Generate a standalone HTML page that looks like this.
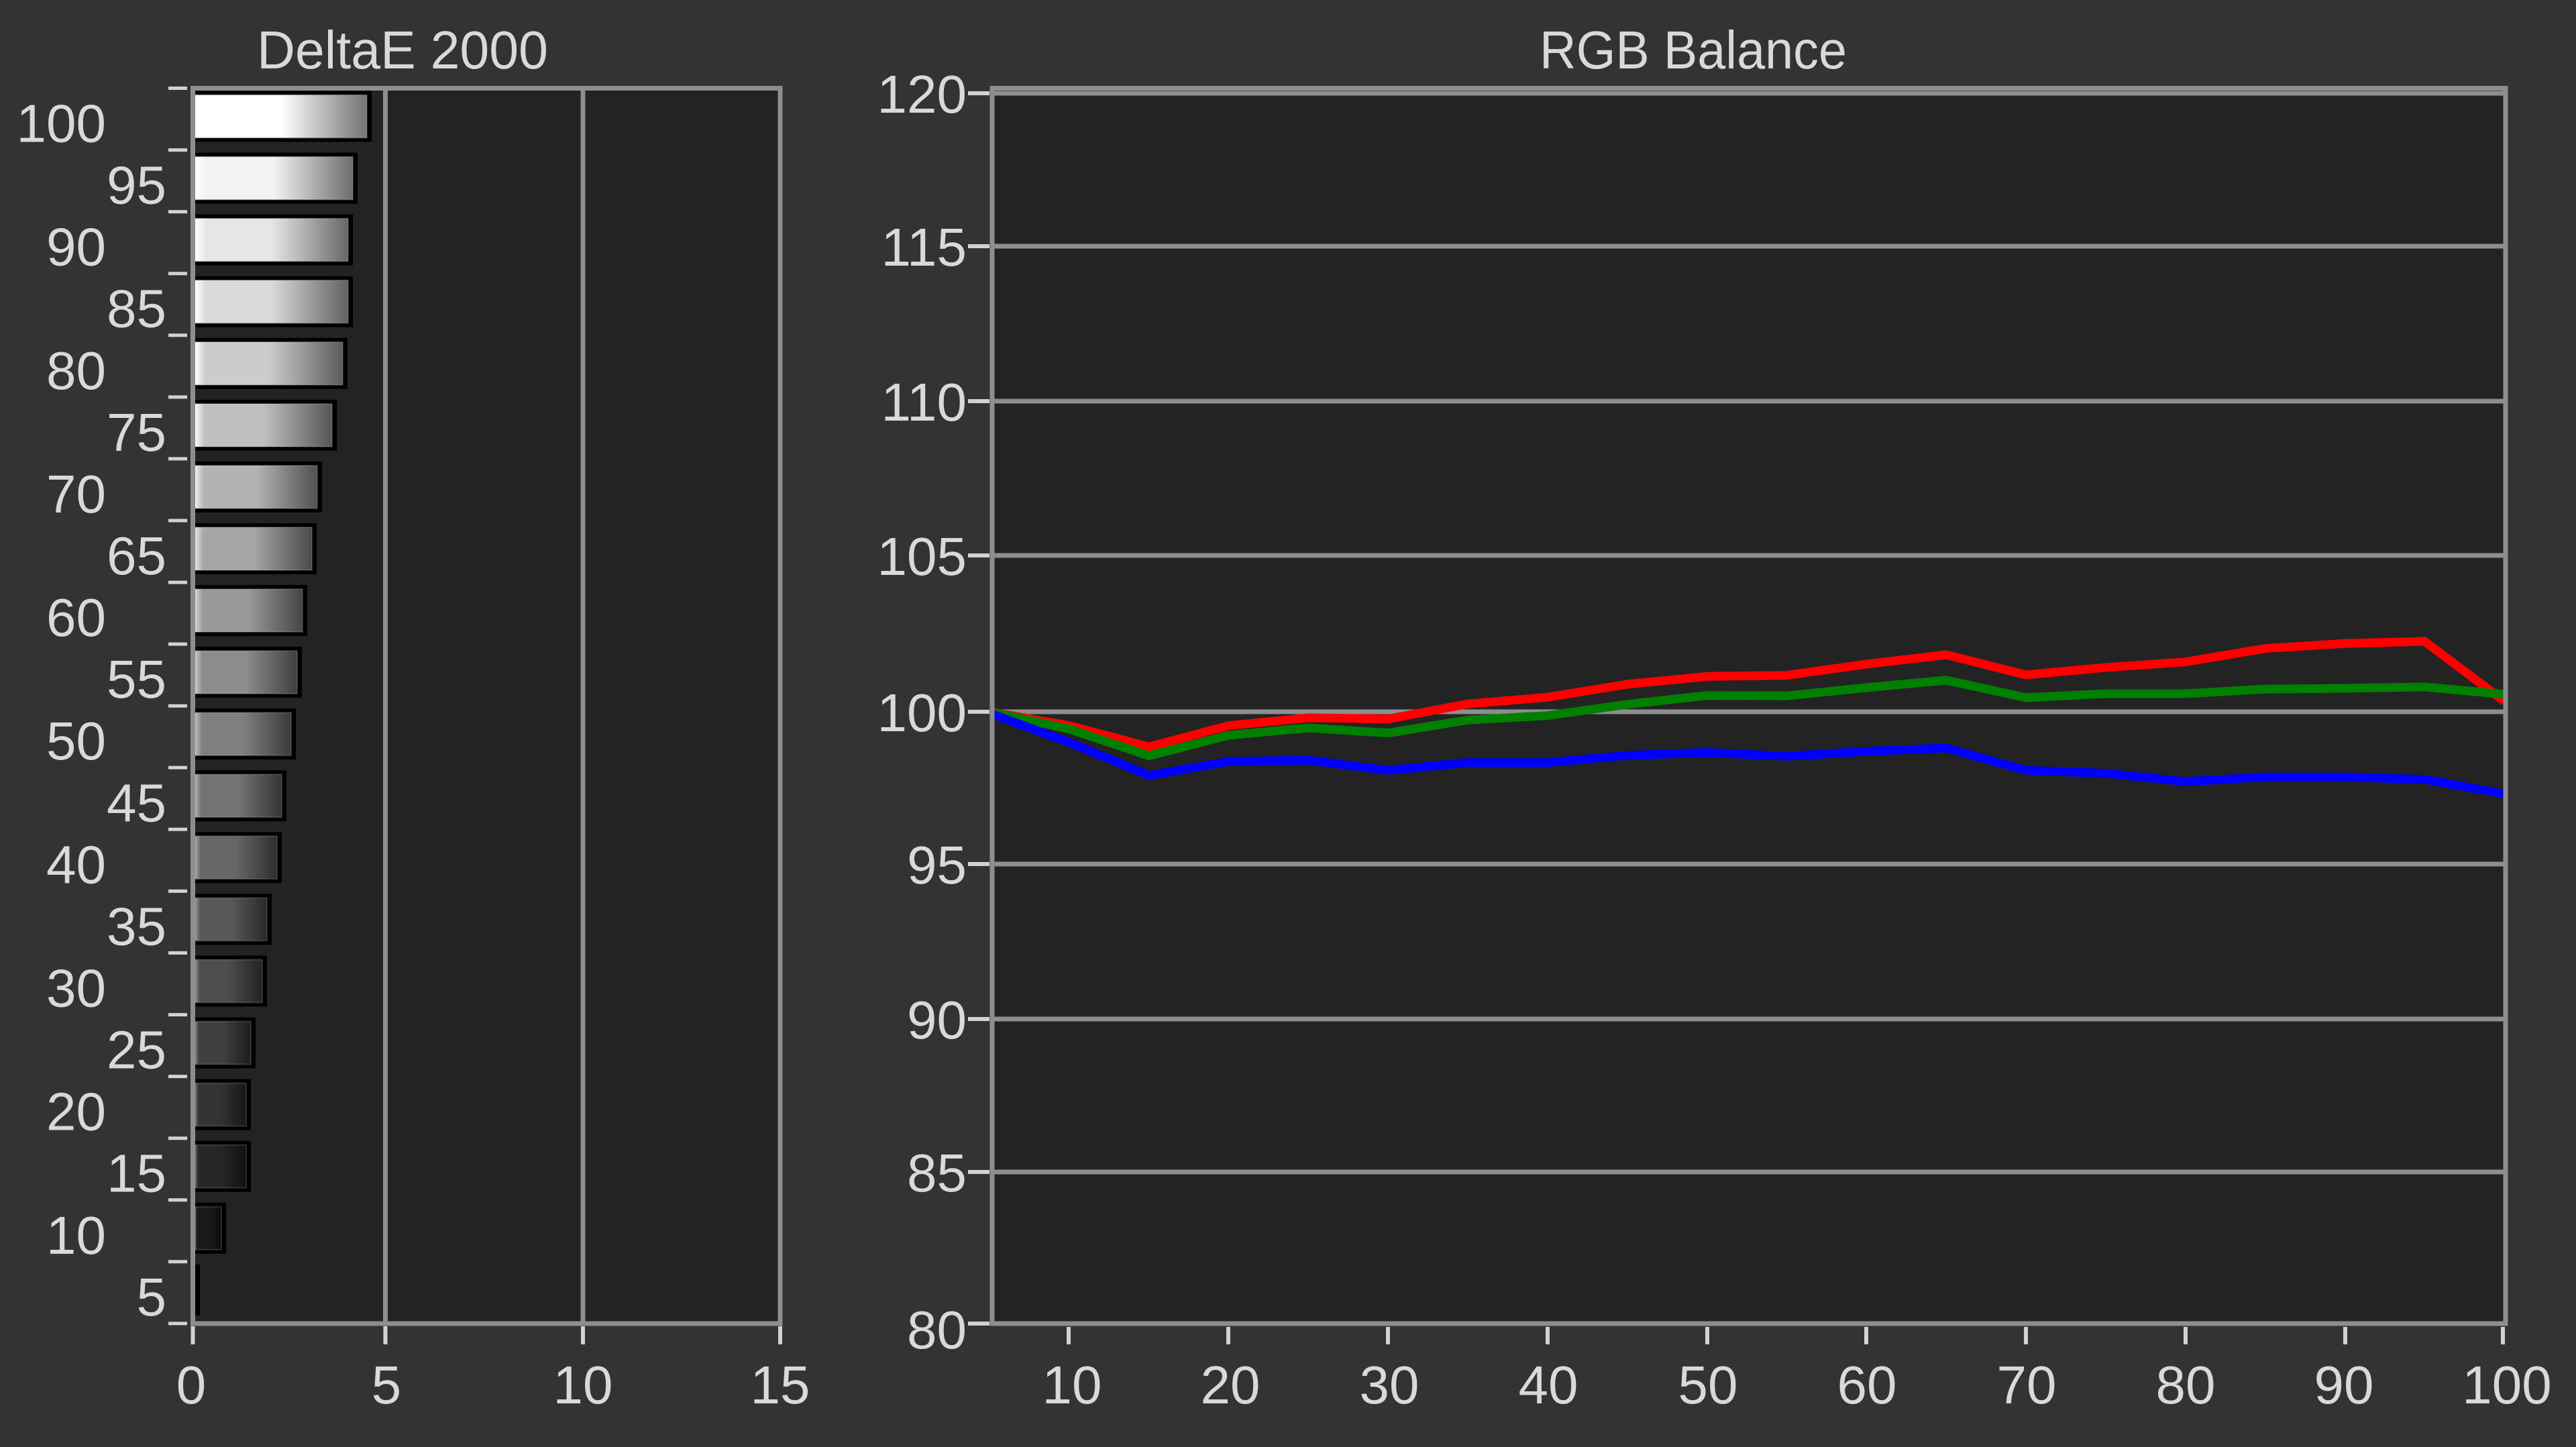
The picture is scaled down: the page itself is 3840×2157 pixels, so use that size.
<!DOCTYPE html>
<html>
<head>
<meta charset="utf-8">
<style>
html,body{margin:0;padding:0;background:#333333;}
svg{display:block;}
text{font-family:"Liberation Sans",sans-serif;font-size:80px;fill:#d9d9d9;}
</style>
</head>
<body>
<svg width="3840" height="2157" viewBox="0 0 3840 2157" xmlns="http://www.w3.org/2000/svg">
<defs>
<linearGradient id="g0"><stop offset="0" stop-color="#ffffff"/><stop offset="0.5" stop-color="#ffffff"/><stop offset="1" stop-color="#737373"/></linearGradient>
<linearGradient id="g1"><stop offset="0" stop-color="#ffffff"/><stop offset="0.07" stop-color="#f2f2f2"/><stop offset="0.5" stop-color="#f2f2f2"/><stop offset="1" stop-color="#6d6d6d"/></linearGradient>
<linearGradient id="g2"><stop offset="0" stop-color="#ffffff"/><stop offset="0.07" stop-color="#e6e6e6"/><stop offset="0.5" stop-color="#e6e6e6"/><stop offset="1" stop-color="#686868"/></linearGradient>
<linearGradient id="g3"><stop offset="0" stop-color="#ffffff"/><stop offset="0.07" stop-color="#d9d9d9"/><stop offset="0.5" stop-color="#d9d9d9"/><stop offset="1" stop-color="#626262"/></linearGradient>
<linearGradient id="g4"><stop offset="0" stop-color="#ffffff"/><stop offset="0.07" stop-color="#cccccc"/><stop offset="0.5" stop-color="#cccccc"/><stop offset="1" stop-color="#5c5c5c"/></linearGradient>
<linearGradient id="g5"><stop offset="0" stop-color="#fbfbfb"/><stop offset="0.07" stop-color="#bfbfbf"/><stop offset="0.5" stop-color="#bfbfbf"/><stop offset="1" stop-color="#565656"/></linearGradient>
<linearGradient id="g6"><stop offset="0" stop-color="#efefef"/><stop offset="0.07" stop-color="#b3b3b3"/><stop offset="0.5" stop-color="#b3b3b3"/><stop offset="1" stop-color="#515151"/></linearGradient>
<linearGradient id="g7"><stop offset="0" stop-color="#e2e2e2"/><stop offset="0.07" stop-color="#a6a6a6"/><stop offset="0.5" stop-color="#a6a6a6"/><stop offset="1" stop-color="#4b4b4b"/></linearGradient>
<linearGradient id="g8"><stop offset="0" stop-color="#d5d5d5"/><stop offset="0.07" stop-color="#999999"/><stop offset="0.5" stop-color="#999999"/><stop offset="1" stop-color="#454545"/></linearGradient>
<linearGradient id="g9"><stop offset="0" stop-color="#c8c8c8"/><stop offset="0.07" stop-color="#8c8c8c"/><stop offset="0.5" stop-color="#8c8c8c"/><stop offset="1" stop-color="#3f3f3f"/></linearGradient>
<linearGradient id="g10"><stop offset="0" stop-color="#bcbcbc"/><stop offset="0.07" stop-color="#808080"/><stop offset="0.5" stop-color="#808080"/><stop offset="1" stop-color="#3a3a3a"/></linearGradient>
<linearGradient id="g11"><stop offset="0" stop-color="#afafaf"/><stop offset="0.07" stop-color="#737373"/><stop offset="0.5" stop-color="#737373"/><stop offset="1" stop-color="#343434"/></linearGradient>
<linearGradient id="g12"><stop offset="0" stop-color="#a2a2a2"/><stop offset="0.07" stop-color="#666666"/><stop offset="0.5" stop-color="#666666"/><stop offset="1" stop-color="#2e2e2e"/></linearGradient>
<linearGradient id="g13"><stop offset="0" stop-color="#959595"/><stop offset="0.07" stop-color="#595959"/><stop offset="0.5" stop-color="#595959"/><stop offset="1" stop-color="#282828"/></linearGradient>
<linearGradient id="g14"><stop offset="0" stop-color="#898989"/><stop offset="0.07" stop-color="#4d4d4d"/><stop offset="0.5" stop-color="#4d4d4d"/><stop offset="1" stop-color="#232323"/></linearGradient>
<linearGradient id="g15"><stop offset="0" stop-color="#7c7c7c"/><stop offset="0.07" stop-color="#404040"/><stop offset="0.5" stop-color="#404040"/><stop offset="1" stop-color="#1d1d1d"/></linearGradient>
<linearGradient id="g16"><stop offset="0" stop-color="#6f6f6f"/><stop offset="0.07" stop-color="#333333"/><stop offset="0.5" stop-color="#333333"/><stop offset="1" stop-color="#171717"/></linearGradient>
<linearGradient id="g17"><stop offset="0" stop-color="#626262"/><stop offset="0.07" stop-color="#262626"/><stop offset="0.5" stop-color="#262626"/><stop offset="1" stop-color="#111111"/></linearGradient>
<linearGradient id="g18"><stop offset="0" stop-color="#565656"/><stop offset="0.07" stop-color="#1a1a1a"/><stop offset="0.5" stop-color="#1a1a1a"/><stop offset="1" stop-color="#0c0c0c"/></linearGradient>
<clipPath id="rclip"><rect x="1482" y="135" width="2249.5" height="1834.5"/></clipPath>
</defs>

<!-- background -->
<rect x="0" y="0" width="3840" height="2157" fill="#333333"/>

<!-- Titles -->
<text x="600" y="102" text-anchor="middle" textLength="434" lengthAdjust="spacingAndGlyphs">DeltaE 2000</text>
<text x="2524" y="102" text-anchor="middle" textLength="458" lengthAdjust="spacingAndGlyphs">RGB Balance</text>

<!-- ===== LEFT CHART ===== -->
<rect x="287.5" y="131.5" width="875.5" height="1841.5" fill="#232323"/>
<g stroke="#8e8e8e" stroke-width="7">
<line x1="574.5" y1="131.5" x2="574.5" y2="1973"/>
<line x1="869" y1="131.5" x2="869" y2="1973"/>
</g>

<!-- bars: black outlines -->
<g fill="#000000">
<rect x="288" y="135.5" width="266" height="76"/>
<rect x="288" y="227.6" width="245" height="76"/>
<rect x="288" y="319.6" width="238" height="76"/>
<rect x="288" y="411.7" width="238" height="76"/>
<rect x="288" y="503.8" width="230" height="76"/>
<rect x="288" y="595.9" width="214" height="76"/>
<rect x="288" y="687.9" width="192" height="76"/>
<rect x="288" y="780" width="184" height="76"/>
<rect x="288" y="872.1" width="170" height="76"/>
<rect x="288" y="964.1" width="162" height="76"/>
<rect x="288" y="1056.2" width="153" height="76"/>
<rect x="288" y="1148.3" width="139" height="76"/>
<rect x="288" y="1240.3" width="132" height="76"/>
<rect x="288" y="1332.4" width="117" height="76"/>
<rect x="288" y="1424.5" width="110" height="76"/>
<rect x="288" y="1516.6" width="93" height="76"/>
<rect x="288" y="1608.6" width="86" height="76"/>
<rect x="288" y="1700.7" width="86" height="76"/>
<rect x="288" y="1792.8" width="49" height="76"/>
<rect x="288" y="1884.8" width="10" height="76"/>
</g>
<!-- bars: fills -->
<g stroke="rgba(255,255,255,0.15)" stroke-width="2">
<rect x="291" y="141.5" width="256" height="64" fill="url(#g0)"/>
<rect x="291" y="233.6" width="235" height="64" fill="url(#g1)"/>
<rect x="291" y="325.6" width="228" height="64" fill="url(#g2)"/>
<rect x="291" y="417.7" width="228" height="64" fill="url(#g3)"/>
<rect x="291" y="509.8" width="220" height="64" fill="url(#g4)"/>
<rect x="291" y="601.9" width="204" height="64" fill="url(#g5)"/>
<rect x="291" y="693.9" width="182" height="64" fill="url(#g6)"/>
<rect x="291" y="786" width="174" height="64" fill="url(#g7)"/>
<rect x="291" y="878.1" width="160" height="64" fill="url(#g8)"/>
<rect x="291" y="970.1" width="152" height="64" fill="url(#g9)"/>
<rect x="291" y="1062.2" width="143" height="64" fill="url(#g10)"/>
<rect x="291" y="1154.3" width="129" height="64" fill="url(#g11)"/>
<rect x="291" y="1246.3" width="122" height="64" fill="url(#g12)"/>
<rect x="291" y="1338.4" width="107" height="64" fill="url(#g13)"/>
<rect x="291" y="1430.5" width="100" height="64" fill="url(#g14)"/>
<rect x="291" y="1522.6" width="83" height="64" fill="url(#g15)"/>
<rect x="291" y="1614.6" width="76" height="64" fill="url(#g16)"/>
<rect x="291" y="1706.7" width="76" height="64" fill="url(#g17)"/>
<rect x="291" y="1798.8" width="39" height="64" fill="url(#g18)"/>
</g>

<!-- left border -->
<rect x="287.5" y="131.5" width="875.5" height="1841.5" fill="none" stroke="#8e8e8e" stroke-width="7"/>

<!-- left y ticks -->
<g stroke="#d2d2d2" stroke-width="5">
<line x1="251" y1="131.5" x2="279" y2="131.5"/>
<line x1="251" y1="223.6" x2="279" y2="223.6"/>
<line x1="251" y1="315.6" x2="279" y2="315.6"/>
<line x1="251" y1="407.7" x2="279" y2="407.7"/>
<line x1="251" y1="499.8" x2="279" y2="499.8"/>
<line x1="251" y1="591.9" x2="279" y2="591.9"/>
<line x1="251" y1="683.9" x2="279" y2="683.9"/>
<line x1="251" y1="776" x2="279" y2="776"/>
<line x1="251" y1="868.1" x2="279" y2="868.1"/>
<line x1="251" y1="960.1" x2="279" y2="960.1"/>
<line x1="251" y1="1052.2" x2="279" y2="1052.2"/>
<line x1="251" y1="1144.3" x2="279" y2="1144.3"/>
<line x1="251" y1="1236.3" x2="279" y2="1236.3"/>
<line x1="251" y1="1328.4" x2="279" y2="1328.4"/>
<line x1="251" y1="1420.5" x2="279" y2="1420.5"/>
<line x1="251" y1="1512.6" x2="279" y2="1512.6"/>
<line x1="251" y1="1604.6" x2="279" y2="1604.6"/>
<line x1="251" y1="1696.7" x2="279" y2="1696.7"/>
<line x1="251" y1="1788.8" x2="279" y2="1788.8"/>
<line x1="251" y1="1880.8" x2="279" y2="1880.8"/>
<line x1="251" y1="1972.9" x2="279" y2="1972.9"/>
</g>
<!-- left x ticks -->
<g stroke="#d2d2d2" stroke-width="6">
<line x1="287.5" y1="1977" x2="287.5" y2="2004"/>
<line x1="574.5" y1="1977" x2="574.5" y2="2004"/>
<line x1="869" y1="1977" x2="869" y2="2004"/>
<line x1="1163" y1="1977" x2="1163" y2="2004"/>
</g>

<!-- left y labels -->
<g text-anchor="end">
<text x="158" y="211.5">100</text>
<text x="248" y="303.6">95</text>
<text x="158" y="395.6">90</text>
<text x="248" y="487.7">85</text>
<text x="158" y="579.8">80</text>
<text x="248" y="671.9">75</text>
<text x="158" y="763.9">70</text>
<text x="248" y="856">65</text>
<text x="158" y="948.1">60</text>
<text x="248" y="1040.1">55</text>
<text x="158" y="1132.2">50</text>
<text x="248" y="1224.3">45</text>
<text x="158" y="1316.3">40</text>
<text x="248" y="1408.4">35</text>
<text x="158" y="1500.5">30</text>
<text x="248" y="1592.6">25</text>
<text x="158" y="1684.6">20</text>
<text x="248" y="1776.7">15</text>
<text x="158" y="1868.8">10</text>
<text x="248" y="1960.8">5</text>
</g>
<!-- left x labels -->
<g text-anchor="middle">
<text x="285" y="2092">0</text>
<text x="576" y="2092">5</text>
<text x="869" y="2092">10</text>
<text x="1163" y="2092">15</text>
</g>

<!-- ===== RIGHT CHART ===== -->
<rect x="1479" y="131.5" width="2256" height="1841.5" fill="#232323"/>
<g stroke="#8e8e8e" stroke-width="7">
<line x1="1479" y1="139" x2="3735" y2="139"/>
<line x1="1479" y1="367" x2="3735" y2="367"/>
<line x1="1479" y1="598" x2="3735" y2="598"/>
<line x1="1479" y1="828" x2="3735" y2="828"/>
<line x1="1479" y1="1061" x2="3735" y2="1061"/>
<line x1="1479" y1="1288" x2="3735" y2="1288"/>
<line x1="1479" y1="1519" x2="3735" y2="1519"/>
<line x1="1479" y1="1747" x2="3735" y2="1747"/>
</g>

<g clip-path="url(#rclip)" fill="none" stroke-width="13" stroke-linejoin="miter" stroke-miterlimit="10">
<polyline stroke="#ff0000" points="1475,1061 1593.9,1081.7 1712.7,1113.3 1831.6,1081.7 1950.4,1070 2069.3,1071.7 2188.1,1049.3 2307,1039.3 2425.8,1020 2544.7,1008.3 2663.5,1006.7 2782.4,990 2901.2,976 3020.1,1006 3138.9,995 3257.8,986.7 3376.6,966.7 3495.5,959.3 3614.3,956 3733.2,1045.3"/>
<polyline stroke="#008000" points="1475,1061 1593.9,1086.7 1712.7,1126.7 1831.6,1096 1950.4,1085 2069.3,1092.7 2188.1,1073.3 2307,1066.7 2425.8,1050 2544.7,1036.7 2663.5,1037.3 2782.4,1025 2901.2,1014 3020.1,1040 3138.9,1034 3257.8,1034 3376.6,1027.3 3495.5,1026 3614.3,1024 3733.2,1035"/>
<polyline stroke="#0000ff" points="1475,1063 1593.9,1106.7 1712.7,1156 1831.6,1135 1950.4,1133.3 2069.3,1148.3 2188.1,1136.7 2307,1136.7 2425.8,1126 2544.7,1121.7 2663.5,1127.3 2782.4,1120 2901.2,1115 3020.1,1148.3 3138.9,1152.7 3257.8,1165 3376.6,1158.3 3495.5,1158.3 3614.3,1161.7 3733.2,1183.3"/>
</g>

<rect x="1479" y="131.5" width="2256" height="1841.5" fill="none" stroke="#8e8e8e" stroke-width="7"/>

<!-- right y ticks -->
<g stroke="#d2d2d2" stroke-width="6">
<line x1="1443" y1="139" x2="1475" y2="139"/>
<line x1="1443" y1="367" x2="1475" y2="367"/>
<line x1="1443" y1="598" x2="1475" y2="598"/>
<line x1="1443" y1="828" x2="1475" y2="828"/>
<line x1="1443" y1="1061" x2="1475" y2="1061"/>
<line x1="1443" y1="1288" x2="1475" y2="1288"/>
<line x1="1443" y1="1519" x2="1475" y2="1519"/>
<line x1="1443" y1="1747" x2="1475" y2="1747"/>
<line x1="1443" y1="1973" x2="1475" y2="1973"/>
</g>
<!-- right x ticks -->
<g stroke="#d2d2d2" stroke-width="6">
<line x1="1593" y1="1978" x2="1593" y2="2004"/>
<line x1="1831" y1="1978" x2="1831" y2="2004"/>
<line x1="2069" y1="1978" x2="2069" y2="2004"/>
<line x1="2307" y1="1978" x2="2307" y2="2004"/>
<line x1="2545" y1="1978" x2="2545" y2="2004"/>
<line x1="2782" y1="1978" x2="2782" y2="2004"/>
<line x1="3020" y1="1978" x2="3020" y2="2004"/>
<line x1="3258" y1="1978" x2="3258" y2="2004"/>
<line x1="3496" y1="1978" x2="3496" y2="2004"/>
<line x1="3731" y1="1978" x2="3731" y2="2004"/>
</g>

<!-- right y labels -->
<g text-anchor="end">
<text x="1441" y="168">120</text>
<text x="1441" y="396">115</text>
<text x="1441" y="627">110</text>
<text x="1441" y="857">105</text>
<text x="1441" y="1090">100</text>
<text x="1441" y="1317">95</text>
<text x="1441" y="1548">90</text>
<text x="1441" y="1776">85</text>
<text x="1441" y="2010">80</text>
</g>
<!-- right x labels -->
<g text-anchor="middle">
<text x="1598" y="2092">10</text>
<text x="1834" y="2092">20</text>
<text x="2071" y="2092">30</text>
<text x="2308" y="2092">40</text>
<text x="2546" y="2092">50</text>
<text x="2783" y="2092">60</text>
<text x="3021" y="2092">70</text>
<text x="3258" y="2092">80</text>
<text x="3494" y="2092">90</text>
<text x="3737" y="2092">100</text>
</g>
</svg>
</body>
</html>
